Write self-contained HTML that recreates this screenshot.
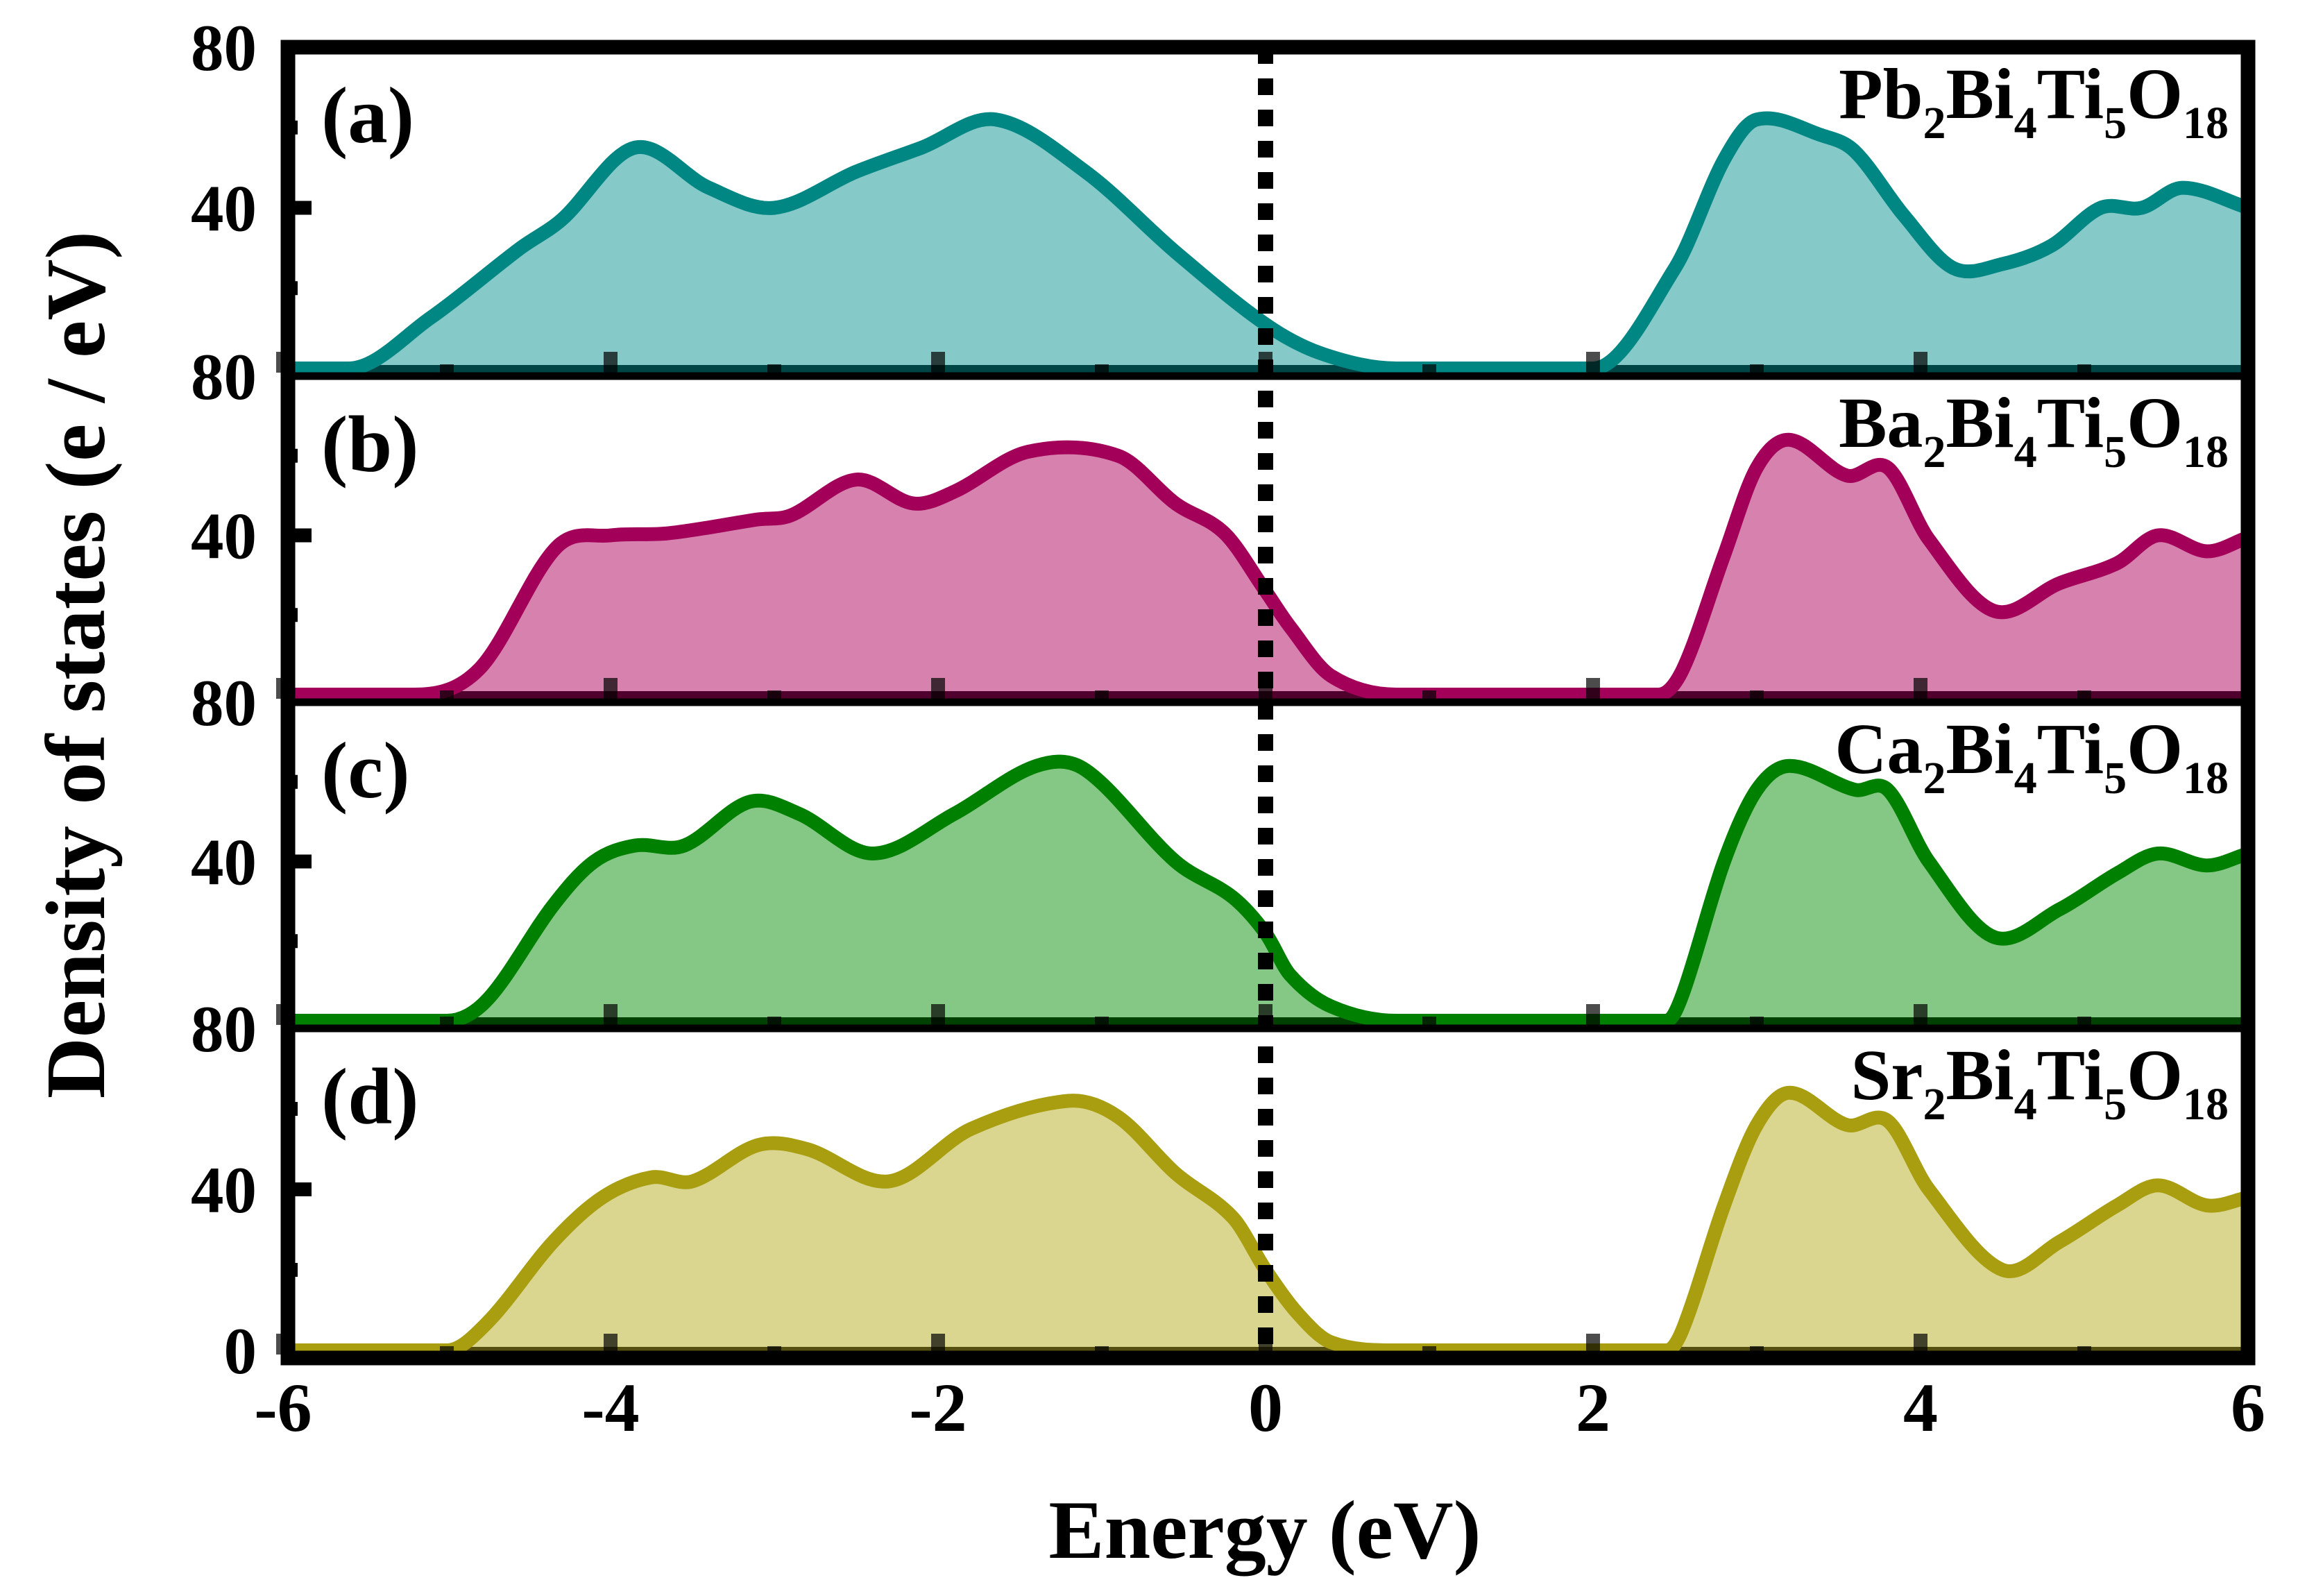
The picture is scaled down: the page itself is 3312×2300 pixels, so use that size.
<!DOCTYPE html>
<html><head><meta charset="utf-8"><style>
html,body{margin:0;padding:0;background:#fff;}
svg{display:block;font-family:"Liberation Serif",serif;font-weight:bold;}
</style></head><body>
<svg id="chart" width="3312" height="2300" viewBox="0 0 3312 2300" xmlns="http://www.w3.org/2000/svg">
<g id="fills"></g><g id="band"></g><g id="lines"></g><g id="ticks"></g><g id="frame"></g><g id="labels"></g>
<text transform="translate(150,958) rotate(-90)" text-anchor="middle" font-size="122">Density of states (e / eV)</text>
<text x="1823" y="2245" text-anchor="middle" font-size="120">Energy (eV)</text>
</svg>
<script>
const NS='http://www.w3.org/2000/svg';
const xTicks=[-6,-4,-2,0,2,4,6];
const xMinor=[-5,-3,-1,1,3,5];
const panelNames=['a','b','c','d'];
const compoundA=['Pb','Ba','Ca','Sr'];
const energyA=[-6,-5.6,-5.1,-4.55,-4.3,-3.85,-3.4,-3.0,-2.5,-2.1,-1.65,-1.1,-0.55,0,0.35,0.8,2.0,2.5,2.8,3.0,3.4,3.6,3.9,4.2,4.5,4.8,5.1,5.35,5.6,6.0];
const dosA=[0,0,12.6,30,37,55,45,40,49,55,62,49,29,11,3.6,0,0,25,52,62,58,54,38,25,26,30.6,40,40,45,40];
const energyB=[-6,-5.2,-4.8,-4.33,-4.0,-3.65,-3.1,-2.9,-2.5,-2.15,-1.9,-1.45,-0.9,-0.55,-0.25,0,0.15,0.4,0.8,2.4,2.55,2.8,3.0,3.2,3.55,3.8,4.05,4.45,4.85,5.2,5.45,5.75,6.0];
const dosB=[0,0,6.5,37,40,40.5,44,45,54,48,51,61,60,48,40.5,26,17,4.7,0,0,6.5,35,57,64,55,57,39,21,28,33,40,36,39.5];
const energyC=[-6,-5.0,-4.75,-4.35,-4.1,-3.85,-3.55,-3.15,-2.85,-2.4,-1.9,-1.4,-1.1,-0.55,-0.2,0,0.15,0.4,0.8,2.45,2.55,2.8,3.0,3.2,3.6,3.8,4.05,4.45,4.85,5.2,5.45,5.75,6.0];
const dosC=[0,0,5.4,29,40,44,44,55,52,42,52,64,63,40,31,22,11.5,3.6,0,0,7,40,58,64,58,58,40,21,28,37,42,39,42];
const energyD=[-6,-5.0,-4.75,-4.35,-4.05,-3.75,-3.5,-3.1,-2.8,-2.3,-1.8,-1.2,-0.9,-0.55,-0.2,0,0.2,0.4,0.8,2.45,2.55,2.8,3.0,3.2,3.55,3.8,4.05,4.5,4.85,5.2,5.45,5.75,6.0];
const dosD=[0,0,7,27,38,43,42,51,50,42,55,62,58,44,33,20,9,2,0,0,5.5,36,56,64,56,57,40,20,27,36,41,36,38];
const seriesE=[energyA,energyB,energyC,energyD];
const seriesV=[dosA,dosB,dosC,dosD];
const lineColors=['#008783','#a3005a','#008000','#a89e10'];
const fillColors=['#85c9c8','#d782ae','#85c886','#dad690'];
const edgeColors=['#004545','#50002c','#004000','#555010'];

const bounds=[68,542,1012,1482,1957];
const X0=408,XU=236;
function sx(e){return X0+(e+6)*XU;}
function sy(i,v){const z=bounds[i+1]-11;return z-(z-bounds[i])*v/80;}

function mk(tag,attrs,parent){const el=document.createElementNS(NS,tag);for(const k in attrs)el.setAttribute(k,attrs[k]);parent.appendChild(el);return el;}

function smooth(px,py,ymax){
  const n=px.length;
  let s='M'+px[0].toFixed(1)+','+py[0].toFixed(1);
  for(let i=0;i<n-1;i++){
    const p0x=px[Math.max(i-1,0)],p0y=py[Math.max(i-1,0)];
    const p3x=px[Math.min(i+2,n-1)],p3y=py[Math.min(i+2,n-1)];
    const h=(px[i+1]-px[i]);
    let m1=(py[i+1]-p0y)/(px[i+1]-p0x), m2=(p3y-py[i])/(p3x-px[i]);
    if(py[i]>=ymax-0.5&&py[i-1]!==undefined&&py[i-1]>=ymax-0.5)m1=0;
    if(py[i+1]>=ymax-0.5&&py[i+2]!==undefined&&py[i+2]>=ymax-0.5)m2=0;
    let c1y=Math.min(py[i]+m1*h/3,ymax), c2y=Math.min(py[i+1]-m2*h/3,ymax);
    s+=' C'+(px[i]+h/3).toFixed(1)+','+c1y.toFixed(1)+' '+(px[i+1]-h/3).toFixed(1)+','+c2y.toFixed(1)+' '+px[i+1].toFixed(1)+','+py[i+1].toFixed(1);
  }
  return s;
}
const fillsG=document.getElementById('fills'),bandG=document.getElementById('band'),linesG=document.getElementById('lines'),ticksG=document.getElementById('ticks'),frameG=document.getElementById('frame'),labG=document.getElementById('labels');
for(let i=0;i<4;i++){
  const px=seriesE[i].map(sx),py=seriesV[i].map(v=>sy(i,v));
  const d=smooth(px,py,sy(i,0));
  const z=bounds[i+1];
  const f=mk('path',{d:d+' L'+px[px.length-1]+','+z+' L'+px[0]+','+z+' Z',fill:fillColors[i],stroke:'none'},fillsG);
  
  
  const b=mk('rect',{x:sx(-6),y:z-16,width:sx(6)-sx(-6),height:12,fill:edgeColors[i]},bandG);
  
  
  xTicks.concat(xMinor).forEach(t=>{
    const major=xTicks.includes(t);const len=major?30:12;
    const r=mk('rect',{x:sx(t)-10,y:z-5-len,width:20,height:len,fill:'#000','fill-opacity':0.7},ticksG);
    
    
  });
  const l=mk('path',{d:d,fill:'none',stroke:lineColors[i],'stroke-width':20,'stroke-linejoin':'round'},linesG);
  
  
  [20,40,60].forEach(v=>{
    const len=v===40?34:14;
    const r=mk('rect',{x:415,y:sy(i,v)-10,width:len,height:20,fill:'#000'},frameG);
    
    
  });
  const t80=mk('text',{x:370,y:bounds[i]+33,'text-anchor':'end','font-size':95},labG);t80.textContent='80';
  
  
  const t40=mk('text',{x:370,y:sy(i,40)+33,'text-anchor':'end','font-size':95},labG);t40.textContent='40';
  
  
  const pl=mk('text',{x:463,y:bounds[i]+137,'font-size':115},labG);pl.textContent='('+panelNames[i]+')';
  
  
  const c=mk('text',{x:3212,y:bounds[i]+102,'text-anchor':'end','font-size':104},labG);
  
  
  c.innerHTML=compoundA[i]+'<tspan font-size="66" dy="29">2</tspan><tspan dy="-29">Bi</tspan><tspan font-size="66" dy="29">4</tspan><tspan dy="-29">Ti</tspan><tspan font-size="66" dy="29">5</tspan><tspan dy="-29">O</tspan><tspan font-size="66" dy="29">18</tspan>';
}
const t0=mk('text',{x:370,y:bounds[4]-11+33,'text-anchor':'end','font-size':95},labG);t0.textContent='0';


xTicks.forEach(t=>{const tl=mk('text',{x:sx(t),y:2062,'text-anchor':'middle','font-size':100},labG);tl.textContent=String(t);
  
  });
const fl=mk('line',{x1:sx(0),x2:sx(0),y1:bounds[0],y2:bounds[4],stroke:'#000','stroke-width':22,'stroke-dasharray':'24 21'},frameG);


for(let i=1;i<4;i++){const s=mk('line',{x1:405,x2:3250,y1:bounds[i],y2:bounds[i],stroke:'#000','stroke-width':11},frameG);
  
  }
const fr=mk('rect',{x:415,y:bounds[0],width:3240-415,height:bounds[4]-bounds[0],fill:'none',stroke:'#000','stroke-width':21},frameG);


</script>
</body></html>
